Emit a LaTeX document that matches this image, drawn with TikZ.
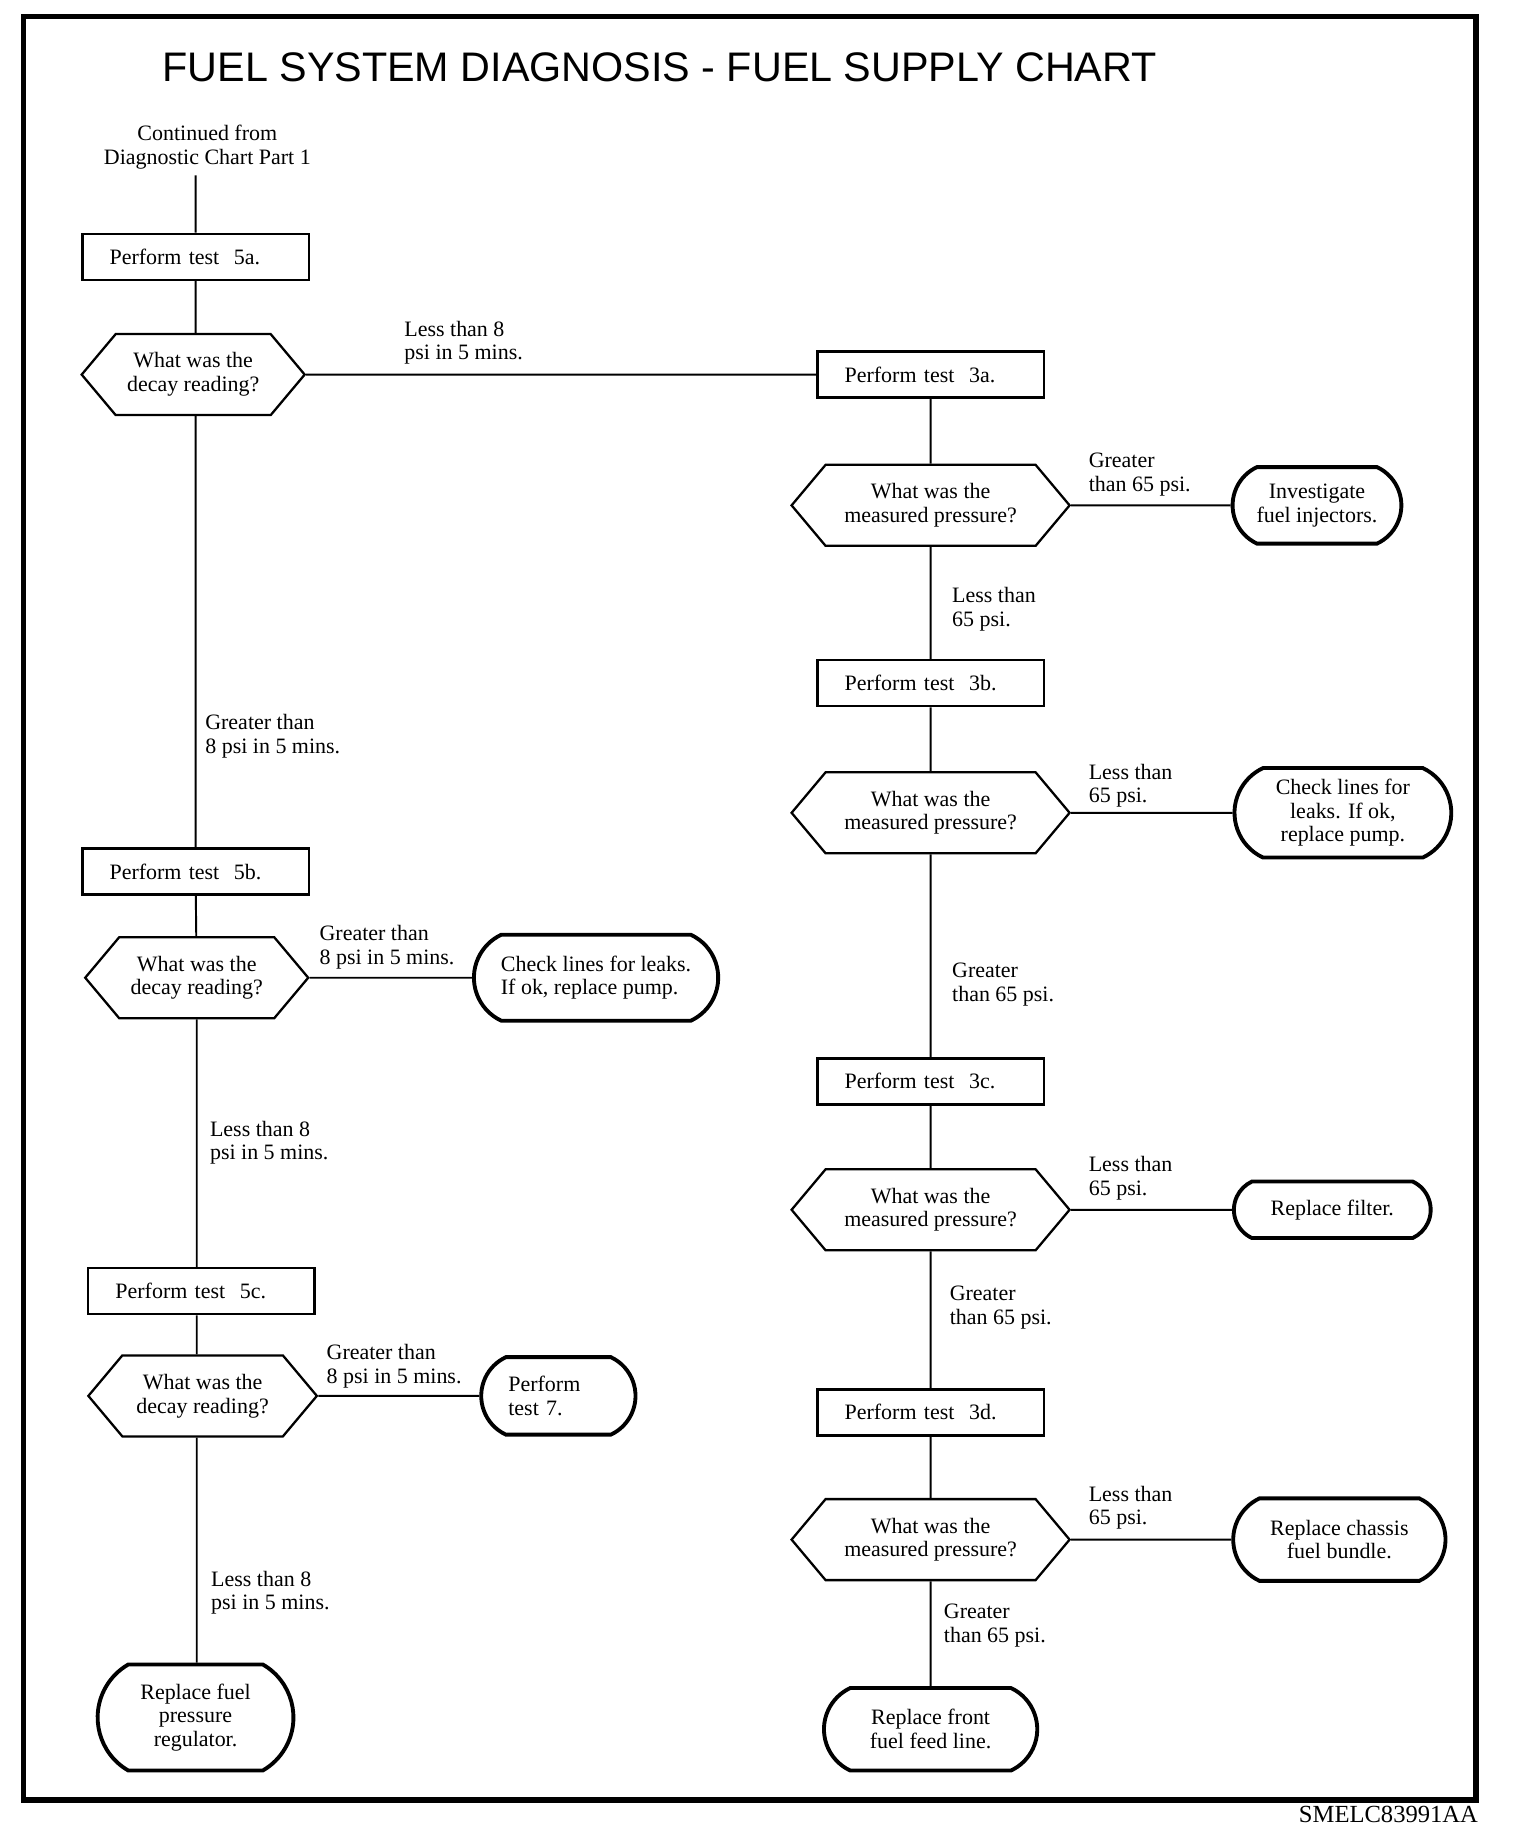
\documentclass[tikz,border=0pt]{standalone}
\usepackage{fontspec}
\setmainfont{Liberation Serif}
\newfontfamily\titlefont{Liberation Sans}
\usetikzlibrary{shapes.symbols,shapes.misc}
\begin{document}
\begin{tikzpicture}[x=0.02356cm,y=-0.02356cm]
          \tikzstyle{every node}=[font=\fontsize{12.5}{13.5}\selectfont];
          \tikzstyle{test}=[draw,line width=1.4pt,rectangle,minimum width=4.53cm,minimum height=0.92cm,text width=3.44cm,inner xsep=0.54cm,align=left];
          \tikzstyle{ask}=[draw,line width=1.3pt,signal,signal to=west and east,signal pointer angle=100,minimum height=1.62cm,align=center];
          \tikzstyle{fix}=[draw,line width=2.2pt,rounded rectangle,rounded rectangle arc length=130,align=center];
          \tikzstyle{cond}=[inner sep=0pt,anchor=west,align=left];
          \useasboundingbox (0,0) rectangle (1290.3,1568.8);
          %frame and title
          \draw[line width=3pt] (20,14) rectangle (1253,1528);
          \node (title) at (560,57) {\titlefont\fontsize{23.5}{28}\selectfont FUEL SYSTEM DIAGNOSIS - FUEL SUPPLY CHART};
          \node (code) at (1255,1540) [anchor=east,inner sep=0pt,font=\fontsize{14}{16}\selectfont] {SMELC83991AA};
          %left column
          \node (cont) at (176,125) [align=center] {Continued from\\Diagnostic Chart Part 1};
          \node (t5a) at (166,218) [test] {Perform test\ \ 5a.};
          \node (d1) at (164,318) [ask,minimum width=4.46cm] {What was the\\decay reading?};
          \node (t5b) at (166,740) [test] {Perform test\ \ 5b.};
          \node (d6) at (167,830) [ask,minimum width=4.46cm] {What was the\\decay reading?};
          \node (chk2) at (506,830) [fix,minimum width=5.12cm,minimum height=1.72cm,align=left] {Check lines for leaks.\\If ok, replace pump.};
          \node (t5c) at (171,1096) [test] {Perform test\ \ 5c.};
          \node (d7) at (172,1185) [ask,minimum width=4.57cm] {What was the\\decay reading?};
          \node (t7) at (474,1185) [fix,minimum width=3.32cm,minimum height=1.55cm,text width=2.0cm,align=left] {Perform\\test 7.};
          \node (reg) at (166,1458) [fix,minimum width=4.15cm,minimum height=2.12cm,rounded rectangle arc length=120] {Replace fuel\\pressure\\regulator.};
          %right column
          \node (t3a) at (790,318) [test] {Perform test\ \ 3a.};
          \node (d2) at (790,429) [ask,minimum width=5.56cm] {What was the\\measured pressure?};
          \node (inv) at (1118,429) [fix,minimum width=3.61cm,minimum height=1.53cm] {Investigate\\fuel injectors.};
          \node (t3b) at (790,580) [test] {Perform test\ \ 3b.};
          \node (d3) at (790,690) [ask,minimum width=5.56cm] {What was the\\measured pressure?};
          \node (chk1) at (1140,690) [fix,minimum width=4.57cm,minimum height=1.79cm] {Check lines for\\leaks. If ok,\\replace pump.};
          \node (t3c) at (790,918) [test] {Perform test\ \ 3c.};
          \node (d4) at (790,1027) [ask,minimum width=5.56cm] {What was the\\measured pressure?};
          \node (flt) at (1131,1027) [fix,minimum width=4.17cm,minimum height=1.13cm] {Replace filter.};
          \node (t3d) at (790,1199) [test] {Perform test\ \ 3d.};
          \node (d5) at (790,1307) [ask,minimum width=5.56cm] {What was the\\measured pressure?};
          \node (chs) at (1137,1307) [fix,minimum width=4.48cm,minimum height=1.65cm] {Replace chassis\\fuel bundle.};
          \node (ffl) at (790,1468) [fix,minimum width=4.50cm,minimum height=1.65cm] {Replace front\\fuel feed line.};
          %answers
          \node (c1) at (343,291) [cond] {Less than 8\\psi in 5 mins.};
          \node (c2) at (924,403) [cond] {Greater\\than 65 psi.};
          \node (c3) at (808,517) [cond] {Less than\\65 psi.};
          \node (c4) at (924,667) [cond] {Less than\\65 psi.};
          \node (c5) at (808,836) [cond] {Greater\\than 65 psi.};
          \node (c6) at (924,1000) [cond] {Less than\\65 psi.};
          \node (c7) at (806,1110) [cond] {Greater\\than 65 psi.};
          \node (c8) at (924,1280) [cond] {Less than\\65 psi.};
          \node (c9) at (801,1380) [cond] {Greater\\than 65 psi.};
          \node (c10) at (174,625) [cond] {Greater than\\8 psi in 5 mins.};
          \node (c11) at (271,804) [cond] {Greater than\\8 psi in 5 mins.};
          \node (c12) at (178,970) [cond] {Less than 8\\psi in 5 mins.};
          \node (c13) at (277,1160) [cond] {Greater than\\8 psi in 5 mins.};
          \node (c14) at (179,1352) [cond] {Less than 8\\psi in 5 mins.};
          \draw[line width=1.1pt] (t5a.north) -- (t5a.north |- cont.south)
          (t5a.south) -- (t5a.south |- d1.north)
          (t5a.south |- d1.south) -- (t5b)
          (d1) -- (t3a)
          (t5b) -- (d6)
          (d6) -- (chk2)
          (d6.south) -- (d6.south |- t5c.north)
          (d6.south |- t5c.south) -- (d6.south |- d7.north)
          (d6.south |- d7.south) -- (d6.south |- reg.north)
          (d7) -- (t7)
          (t3a) -- (d2)
          (d2) -- (inv)
          (d2) -- (t3b)
          (t3b) -- (d3)
          (d3) -- (chk1)
          (d3) -- (t3c)
          (t3c) -- (d4)
          (d4) -- (flt)
          (d4) -- (t3d)
          (t3d) -- (d5)
          (d5) -- (chs)
          (d5) -- (ffl);
      \end{tikzpicture}
\end{document}
